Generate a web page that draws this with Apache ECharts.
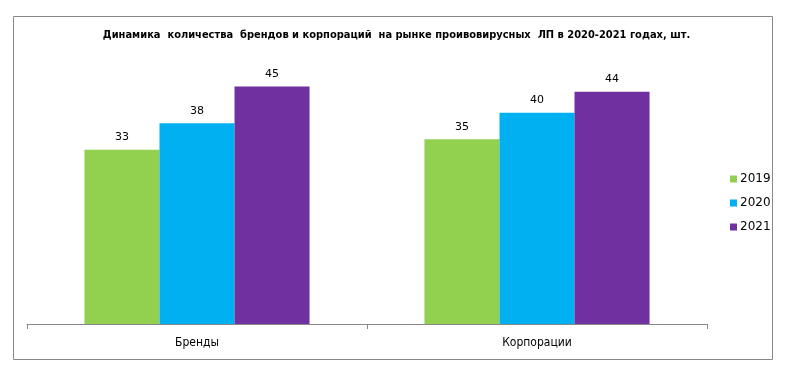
<!DOCTYPE html>
<html><head><meta charset="utf-8">
<script src="https://cdn.jsdelivr.net/npm/echarts@6/dist/echarts.min.js"></script>
<style>html,body{margin:0;padding:0;background:#fff}#c{width:793px;height:379px}</style>
</head><body><div id="c"></div>
<script>
const categories = ['Бренды', 'Корпорации'];
const years = ['2019', '2020', '2021'];
const v2019 = [33, 35];
const v2020 = [38, 40];
const v2021 = [45, 44];
const colors = ['#92D050', '#00B0F0', '#7030A0'];
const title = 'Динамика  количества  брендов и корпораций  на рынке проивовирусных  ЛП в 2020-2021 годах, шт.';

const chart = echarts.init(document.getElementById('c'), null, {renderer: 'canvas'});
const seriesData = [v2019, v2020, v2021];
chart.setOption({
  animation: false,
  backgroundColor: '#fff',
  title: {
    text: title, left: 'center', top: 25,
    textStyle: {fontFamily: 'DejaVu Sans Condensed', fontWeight: 'bold', fontSize: 11, color: '#000'}
  },
  legend: {
    orient: 'vertical', left: 725, top: 168, itemWidth: 7, itemHeight: 7, itemGap: 12,
    icon: 'rect',
    textStyle: {fontFamily: 'DejaVu Sans', fontSize: 12, color: '#000', padding: [0,0,0,-2]},
    data: years
  },
  grid: {left: 27, right: 86, top: 60, bottom: 55},
  xAxis: {
    type: 'category', data: categories,
    axisLine: {show: true, lineStyle: {color: '#888', width: 1}},
    axisTick: {show: true, length: 5, interval: 0, lineStyle: {color: '#888'}},
    axisLabel: {margin: 13, fontFamily: 'DejaVu Sans Condensed', fontSize: 12, color: '#000'}
  },
  yAxis: {type: 'value', min: 0, max: 50, show: false, splitLine: {show: false}},
  series: years.map((y, i) => ({
    name: y, type: 'bar', data: seriesData[i], barGap: '0%', barCategoryGap: '33.8%',
    itemStyle: {color: colors[i]},
    label: {show: true, position: 'top', distance: 7, fontFamily: 'DejaVu Sans', fontSize: 11, color: '#000'}
  })),
  graphic: [{
    type: 'rect', shape: {x: 13.5, y: 16.5, width: 759, height: 343},
    style: {fill: 'none', stroke: '#888', lineWidth: 1}, silent: true, z: -1
  }]
});
</script></body></html>
